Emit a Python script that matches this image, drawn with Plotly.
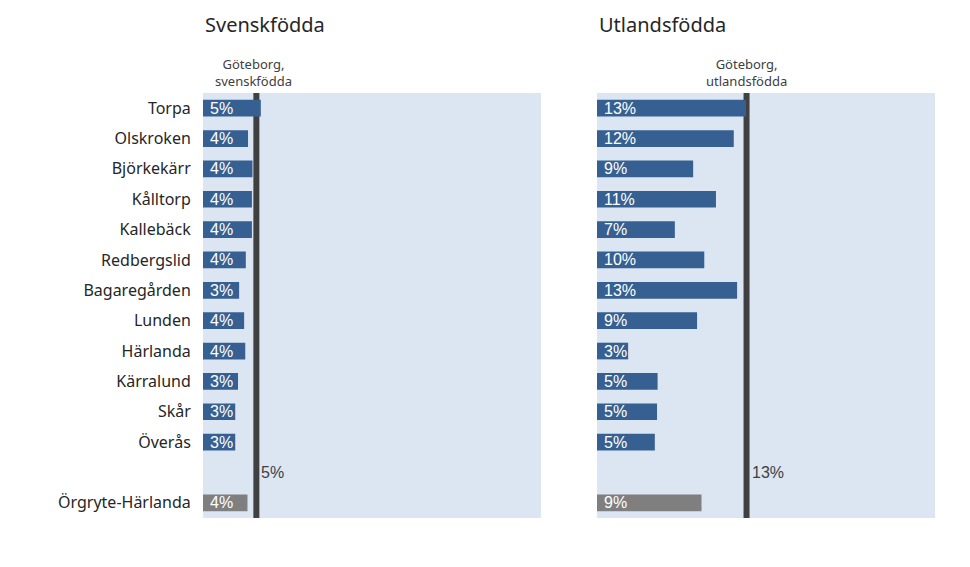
import plotly.graph_objects as go

# ---- data ----
categories = ["Torpa", "Olskroken", "Björkekärr", "Kålltorp", "Kallebäck", "Redbergslid",
              "Bagaregården", "Lunden", "Härlanda", "Kärralund", "Skår", "Överås", "",
              "Örgryte-Härlanda"]
svenskfodda = [5.2, 4.05, 4.45, 4.4, 4.4, 3.85, 3.25, 3.7, 3.8, 3.15, 2.9, 2.9, None, 4.0]
utlandsfodda = [13.4, 12.3, 8.65, 10.7, 7.0, 9.65, 12.6, 9.0, 2.8, 5.45, 5.4, 5.2, None, 9.4]
goteborg_svensk = 4.8
goteborg_utlands = 13.45
titles = ["Svenskfödda", "Utlandsfödda"]
ref_labels = ["Göteborg,<br>svenskfödda", "Göteborg,<br>utlandsfödda"]
total_name = "Örgryte-Härlanda"

BLUE = "#376092"
GRAY = "#7F7F7F"
BG = "#DCE6F2"
LINE = "#404040"

OFF = 8  # page body margin
W, H = 970, 567

pos = list(range(len(categories)))
tickvals = [p for p, c in zip(pos, categories) if c]
ticktext = [c for c in categories if c]
colors = [GRAY if c == total_name else BLUE for c in categories]

fig = go.Figure()
panels = [("x", "y", svenskfodda, goteborg_svensk), ("x2", "y2", utlandsfodda, goteborg_utlands)]
annotations = []
shapes = []
for i, (xa, ya, vals, ref) in enumerate(panels):
    fig.add_trace(go.Bar(
        x=vals, y=pos, orientation="h", xaxis=xa, yaxis=ya,
        marker=dict(color=colors, line=dict(width=0)),
        hoverinfo="skip", showlegend=False,
    ))
    for p, v in zip(pos, vals):
        if v is None:
            continue
        annotations.append(dict(
            x=0, y=p, xref=xa, yref=ya, text=f"{v:.0f}%", showarrow=False,
            xanchor="left", yanchor="middle", xshift=5,
            font=dict(family="Liberation Sans, Arial", size=16, color="white"),
        ))
    shapes.append(dict(
        type="line", xref=xa, yref=f"{ya} domain", x0=ref, x1=ref, y0=0, y1=1,
        line=dict(color=LINE, width=6), layer="below",
    ))
    blank = categories.index("")
    annotations.append(dict(
        x=ref, y=blank, xref=xa, yref=ya, text=f"{ref:.0f}%", showarrow=False,
        xanchor="left", yanchor="middle", xshift=3,
        font=dict(family="Liberation Sans, Arial", size=16, color=LINE),
    ))
    annotations.append(dict(
        x=ref, y=1, xref=xa, yref=f"{ya} domain", text=ref_labels[i], showarrow=False,
        xanchor="center", yanchor="bottom", yshift=1, xshift=-3 if i == 0 else 0,
        font=dict(family="Noto Sans, Open Sans", size=13, color=LINE),
    ))

dom1 = [(203 - OFF) / W, (541 - OFF) / W]
dom2 = [(597 - OFF) / W, (935 - OFF) / W]
ydom = [1 - (518 - OFF) / H, 1 - (93 - OFF) / H]

for i, d in enumerate([dom1, dom2]):
    annotations.append(dict(
        x=d[0], y=1 - (25 - OFF) / H, xref="paper", yref="paper", text=titles[i], showarrow=False,
        xanchor="left", yanchor="middle",
        font=dict(family="Noto Sans, Open Sans", size=20, color="#262626"),
    ))

xcommon = dict(range=[0, 30.4], showgrid=False, zeroline=False, showticklabels=False,
               ticks="", showline=False, fixedrange=True)
ycommon = dict(range=[13.5, -0.5], showgrid=False, zeroline=False, showline=False,
               domain=ydom, fixedrange=True)

fig.update_layout(
    width=W, height=H,
    margin=dict(l=0, r=0, t=0, b=0),
    paper_bgcolor="white", plot_bgcolor=BG,
    bargap=0.45,
    xaxis=dict(domain=dom1, anchor="y", **xcommon),
    xaxis2=dict(domain=dom2, anchor="y2", **xcommon),
    yaxis=dict(anchor="x", tickmode="array", tickvals=tickvals, ticktext=ticktext,
               ticks="outside", ticklen=8, tickcolor="rgba(0,0,0,0)",
               tickfont=dict(family="Noto Sans, Open Sans", size=16, color="#262626"),
               **ycommon),
    yaxis2=dict(anchor="x2", showticklabels=False, ticks="", **ycommon),
    annotations=annotations,
    shapes=shapes,
)

fig.write_html("out.html")
